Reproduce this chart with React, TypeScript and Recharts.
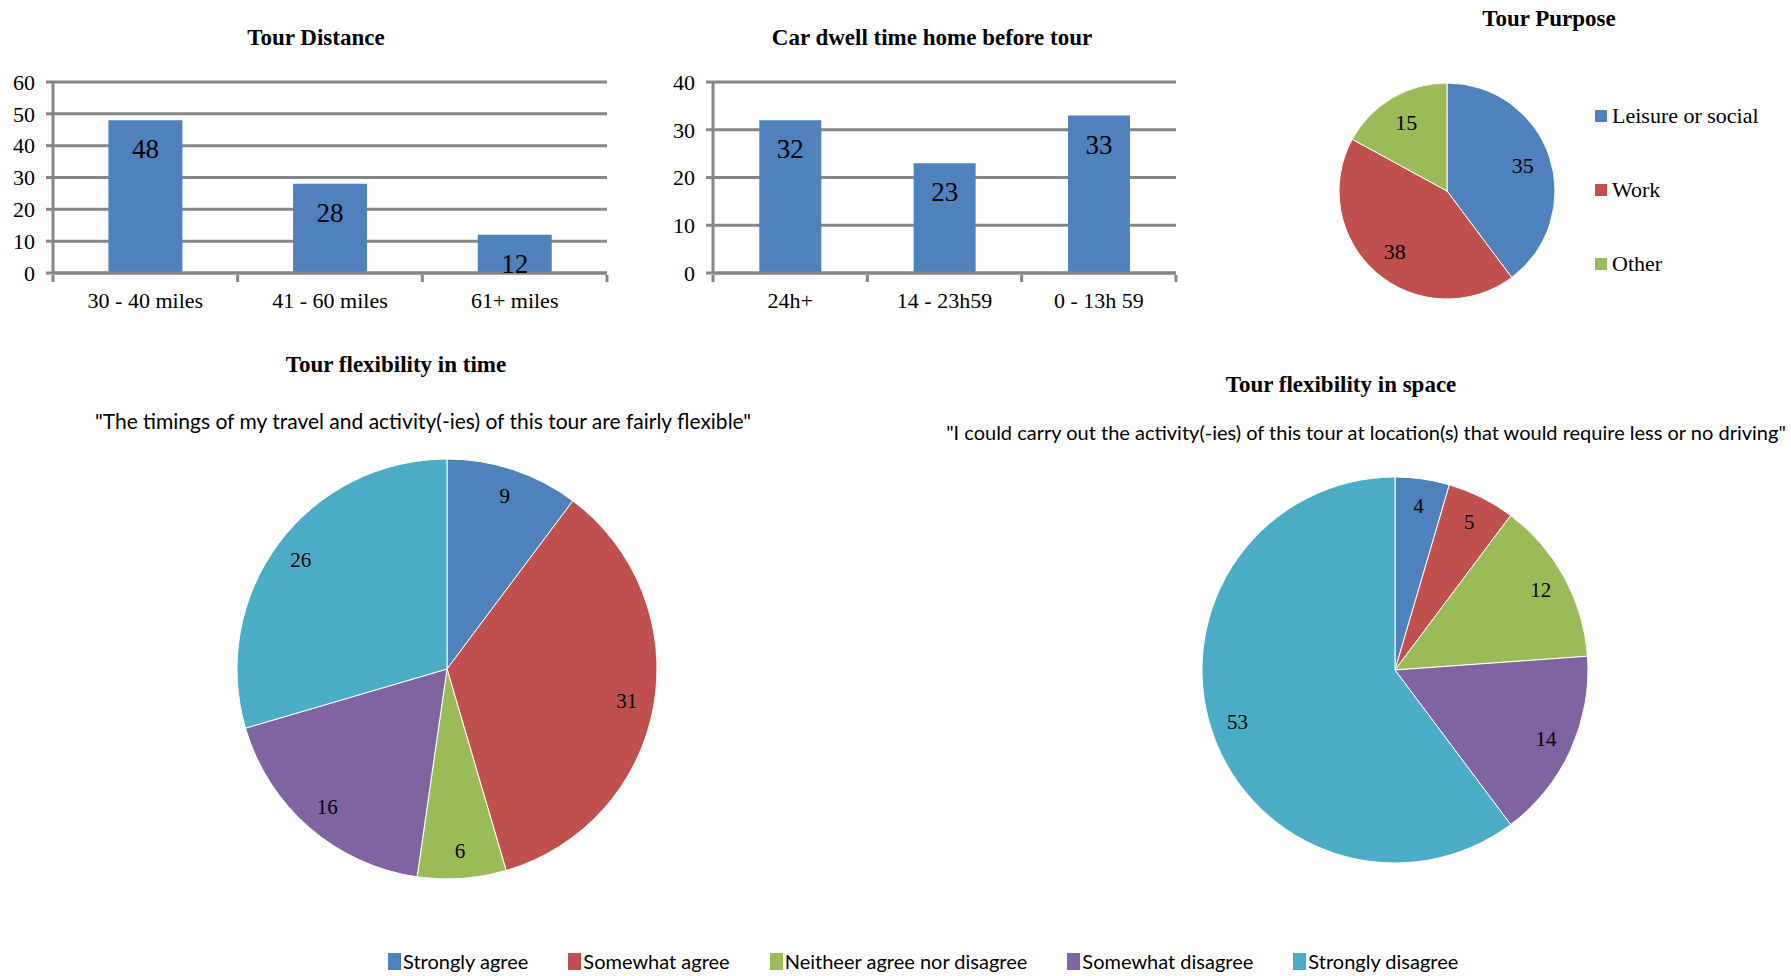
import { BarChart, Bar, XAxis, YAxis, CartesianGrid, LabelList, PieChart, Pie, Cell, Legend } from "recharts";

const SERIF = "'Liberation Serif', 'Times New Roman', serif";
const SANS = "Lato, 'Open Sans', sans-serif";
const GRID = "#868686";
const RAD = Math.PI / 180;

const distanceBands = ["30 - 40 miles", "41 - 60 miles", "61+ miles"];
const distanceCounts = [48, 28, 12];
const distanceTicks = [0, 10, 20, 30, 40, 50, 60];

const dwellBands = ["24h+", "14 - 23h59", "0 - 13h 59"];
const dwellCounts = [32, 23, 33];
const dwellTicks = [0, 10, 20, 30, 40];

const purposeNames = ["Leisure or social", "Work", "Other"];
const purposeCounts = [35, 38, 15];
const purposeColors = ["#4F81BD", "#C0504D", "#9BBB59"];

const agreementNames = [
  "Strongly agree",
  "Somewhat agree",
  "Neitheer agree nor disagree",
  "Somewhat disagree",
  "Strongly disagree",
];
const agreementColors = ["#4F81BD", "#C0504D", "#9BBB59", "#8064A2", "#4BACC6"];
const timeFlexCounts = [9, 31, 6, 16, 26];
const spaceFlexCounts = [4, 5, 12, 14, 53];

function Title({ x, y, children, bold = true, font = SERIF, size = 23 }: any) {
  return (
    <div
      style={{
        position: "absolute",
        left: x - 500,
        top: y - 14,
        width: 1000,
        lineHeight: "28px",
        textAlign: "center",
        fontFamily: font,
        fontWeight: bold ? 700 : 400,
        fontSize: size,
        color: "#000",
        whiteSpace: "nowrap",
      }}
    >
      {children}
    </div>
  );
}

// category label centred under the bar, tick marks on the band edges
function BandTick({ x, y, payload, index, step, count }: any) {
  return (
    <g>
      <line x1={x - step / 2} x2={x - step / 2} y1={y} y2={y + 7} stroke={GRID} strokeWidth={3} />
      {index === count - 1 && (
        <line x1={x + step / 2} x2={x + step / 2} y1={y} y2={y + 7} stroke={GRID} strokeWidth={3} />
      )}
      <text x={x} y={y + 33} textAnchor="middle" fontSize={22} fontFamily={SERIF} fill="#000">
        {payload.value}
      </text>
    </g>
  );
}

function BarPanel({ bands, counts, ticks, left, width, plotLeft, plotRight }: any) {
  const data = bands.map((band: string, i: number) => ({ band, count: counts[i] }));
  const step = (plotRight - plotLeft) / bands.length;
  return (
    <div style={{ position: "absolute", left, top: 0 }}>
      <BarChart
        width={width}
        height={320}
        data={data}
        barCategoryGap="30%"
        margin={{ top: 82, right: width - plotRight, left: 0, bottom: 0 }}
      >
        <CartesianGrid vertical={false} stroke={GRID} strokeWidth={3} />
        <YAxis
          width={plotLeft}
          domain={[0, ticks[ticks.length - 1]]}
          ticks={ticks}
          interval={0}
          axisLine={{ stroke: GRID, strokeWidth: 3 }}
          tickLine={{ stroke: GRID, strokeWidth: 3 }}
          tickSize={7}
          tickMargin={11}
          tick={{ fill: "#000", fontSize: 22, fontFamily: SERIF }}
        />
        <XAxis
          dataKey="band"
          height={47}
          interval={0}
          axisLine={{ stroke: GRID, strokeWidth: 3 }}
          tickLine={false}
          tickSize={0}
          tick={(p: any) => <BandTick {...p} step={step} count={bands.length} />}
        />
        <Bar dataKey="count" fill="#4F81BD" isAnimationActive={false}>
          <LabelList
            dataKey="count"
            position="insideTop"
            offset={19}
            fill="#000"
            fontSize={27}
            fontFamily={SERIF}
          />
        </Bar>
      </BarChart>
    </div>
  );
}

function sliceLabel(frac: number, size: number) {
  return ({ cx, cy, midAngle, outerRadius, value }: any) => {
    const r = outerRadius * frac;
    const x = cx + r * Math.cos(-midAngle * RAD);
    const y = cy + r * Math.sin(-midAngle * RAD);
    return (
      <text x={x} y={y} textAnchor="middle" dominantBaseline="central" fontSize={size} fontFamily={SERIF} fill="#000">
        {value}
      </text>
    );
  };
}

// legend entries are listed in data order, not sorted
function PurposeLegend() {
  return (
    <div>
      {purposeNames.map((name, i) => (
        <div
          key={name}
          style={{ display: "flex", alignItems: "center", height: 26, marginBottom: 48, whiteSpace: "nowrap" }}
        >
          <span style={{ width: 12, height: 12, background: purposeColors[i], marginRight: 5 }} />
          <span style={{ fontFamily: SERIF, fontSize: 22, color: "#000" }}>{name}</span>
        </div>
      ))}
    </div>
  );
}

function AgreementLegend() {
  return (
    <div style={{ display: "flex", alignItems: "center", paddingLeft: 388, height: 26, whiteSpace: "nowrap" }}>
      {agreementNames.map((name, i) => (
        <div key={name} style={{ display: "flex", alignItems: "center", marginRight: 40 }}>
          <span style={{ width: 13, height: 17, background: agreementColors[i], marginRight: 2 }} />
          <span style={{ fontFamily: SANS, fontSize: 20, color: "#000" }}>{name}</span>
        </div>
      ))}
    </div>
  );
}

export default function App() {
  const purposeData = purposeNames.map((name, i) => ({ name, value: purposeCounts[i] }));
  const timeData = agreementNames.map((name, i) => ({ name, value: timeFlexCounts[i] }));
  const spaceData = agreementNames.map((name, i) => ({ name, value: spaceFlexCounts[i] }));

  return (
    <div
      style={{
        position: "absolute",
        left: 0,
        top: 0,
        width: 1791,
        height: 976,
        background: "#fff",
        overflow: "hidden",
      }}
    >
      <BarPanel
        bands={distanceBands}
        counts={distanceCounts}
        ticks={distanceTicks}
        left={0}
        width={620}
        plotLeft={53}
        plotRight={607}
      />
      <BarPanel
        bands={dwellBands}
        counts={dwellCounts}
        ticks={dwellTicks}
        left={640}
        width={560}
        plotLeft={73}
        plotRight={536}
      />

      <div style={{ position: "absolute", left: 1300, top: 0 }}>
        <PieChart width={491} height={320} margin={{ top: 0, right: 0, bottom: 0, left: 0 }}>
          <Pie
            data={purposeData}
            dataKey="value"
            nameKey="name"
            cx={147}
            cy={191}
            outerRadius={108}
            startAngle={90}
            endAngle={-270}
            stroke="#fff"
            strokeWidth={1}
            label={sliceLabel(0.74, 22)}
            labelLine={false}
            isAnimationActive={false}
          >
            {purposeData.map((d, i) => (
              <Cell key={d.name} fill={purposeColors[i]} />
            ))}
          </Pie>
          <Legend content={<PurposeLegend />} wrapperStyle={{ left: 295, top: 103, width: 196 }} />
        </PieChart>
      </div>

      <div style={{ position: "absolute", left: 0, top: 340 }}>
        <PieChart width={1791} height={636} margin={{ top: 0, right: 0, bottom: 0, left: 0 }}>
          <Pie
            data={timeData}
            dataKey="value"
            nameKey="name"
            cx={447}
            cy={329}
            outerRadius={210}
            startAngle={90}
            endAngle={-270}
            stroke="#fff"
            strokeWidth={1}
            label={sliceLabel(0.87, 21)}
            labelLine={false}
            isAnimationActive={false}
          >
            {timeData.map((d, i) => (
              <Cell key={d.name} fill={agreementColors[i]} />
            ))}
          </Pie>
          <Pie
            data={spaceData}
            dataKey="value"
            nameKey="name"
            cx={1395}
            cy={330}
            outerRadius={193}
            startAngle={90}
            endAngle={-270}
            stroke="#fff"
            strokeWidth={1}
            legendType="none"
            label={sliceLabel(0.86, 21)}
            labelLine={false}
            isAnimationActive={false}
          >
            {spaceData.map((d, i) => (
              <Cell key={d.name} fill={agreementColors[i]} />
            ))}
          </Pie>
          <Legend content={<AgreementLegend />} wrapperStyle={{ left: 0, top: 608, width: 1791 }} />
        </PieChart>
      </div>

      <Title x={316} y={38}>Tour Distance</Title>
      <Title x={932} y={38}>Car dwell time home before tour</Title>
      <Title x={1549} y={19}>Tour Purpose</Title>
      <Title x={396} y={365}>Tour flexibility in time</Title>
      <Title x={1341} y={385}>Tour flexibility in space</Title>
      <Title x={423} y={421} bold={false} font={SANS} size={21}>
        "The timings of my travel and activity(-ies) of this tour are fairly flexible"
      </Title>
      <Title x={1366} y={432} bold={false} font={SANS} size={20}>
        "I could carry out the activity(-ies) of this tour at location(s) that would require less or no driving"
      </Title>
    </div>
  );
}
